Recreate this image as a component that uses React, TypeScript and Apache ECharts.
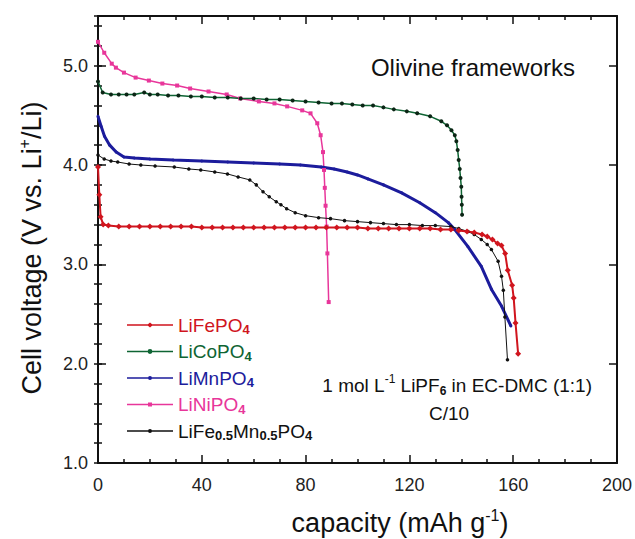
import React, { useEffect, useRef } from 'react';
import * as echarts from 'echarts';

const FONT = '"Liberation Sans", Arial, Helvetica, sans-serif';

const seriesNames = ['LiFePO4', 'LiCoPO4', 'LiMnPO4', 'LiNiPO4', 'LiFe0.5Mn0.5PO4'];
const seriesColors = ['#d0151e', '#0e6433', '#1c1c9c', '#e8369a', '#111111'];
const xTicks = [0, 40, 80, 120, 160, 200];
const yTicks = [1.0, 2.0, 3.0, 4.0, 5.0];

// LiFePO4 (red)
const feCap = [0, 0.5, 1, 2, 4, 8, 12, 16, 20, 24, 28, 32, 36, 40, 44, 48, 52, 56, 60, 64, 68, 72, 76, 80, 84, 88, 92, 96, 100, 104, 108, 112, 116, 120, 124, 128, 132, 136, 139, 142.2, 145, 148, 150, 152, 154, 155.5, 156.9, 157.9, 159.6, 160.2, 160.9, 161.9];
const feV = [3.98, 3.70, 3.48, 3.40, 3.39, 3.38, 3.38, 3.38, 3.38, 3.38, 3.38, 3.38, 3.38, 3.37, 3.37, 3.37, 3.37, 3.37, 3.37, 3.37, 3.37, 3.37, 3.37, 3.37, 3.37, 3.37, 3.37, 3.37, 3.37, 3.36, 3.36, 3.36, 3.36, 3.36, 3.36, 3.36, 3.35, 3.35, 3.34, 3.33, 3.32, 3.30, 3.28, 3.25, 3.21, 3.19, 3.11, 2.94, 2.79, 2.66, 2.41, 2.10];

// LiCoPO4 (green)
const coCap = [0, 1.8, 5, 8, 11, 14, 17.8, 20, 23, 27, 31, 35.8, 40, 45, 50, 55, 60, 65, 70, 75, 80, 85, 90, 94, 98, 102, 106, 110, 114, 119, 123, 128, 132.3, 134.5, 136.2, 137.5, 138.1, 138.6, 139, 139.4, 139.7, 140, 140.1, 140.2, 140.3];
const coV = [4.84, 4.73, 4.71, 4.71, 4.71, 4.71, 4.73, 4.71, 4.71, 4.70, 4.70, 4.69, 4.69, 4.68, 4.68, 4.67, 4.67, 4.66, 4.66, 4.65, 4.64, 4.63, 4.62, 4.62, 4.61, 4.60, 4.60, 4.58, 4.56, 4.54, 4.52, 4.49, 4.44, 4.40, 4.35, 4.30, 4.24, 4.15, 4.05, 3.96, 3.87, 3.78, 3.68, 3.60, 3.50];

// LiMnPO4 (blue)
const mnCap = [0, 1.2, 2.5, 4.5, 7, 10, 14, 20, 29, 40, 50, 60, 70, 78, 86, 91, 96, 100, 104, 110, 117, 124, 130, 135, 137.5, 142.5, 147.7, 151.6, 155.5, 159.1];
const mnV = [4.49, 4.39, 4.29, 4.20, 4.13, 4.08, 4.07, 4.06, 4.05, 4.04, 4.03, 4.02, 4.01, 4.00, 3.98, 3.96, 3.93, 3.90, 3.86, 3.80, 3.72, 3.62, 3.52, 3.42, 3.35, 3.18, 2.98, 2.75, 2.58, 2.38];

// LiNiPO4 (magenta)
const niCap = [0, 2.4, 5.3, 6.9, 10, 14.5, 19.6, 24.8, 30.5, 35.5, 42.6, 49.6, 54.8, 62, 68, 72.9, 78.7, 81.9, 84.5, 85.8, 86.7, 87.1, 87.4, 87.7, 88.1, 88.4, 88.9];
const niV = [5.24, 5.13, 5.02, 4.98, 4.93, 4.88, 4.85, 4.82, 4.80, 4.77, 4.74, 4.71, 4.67, 4.64, 4.62, 4.59, 4.55, 4.52, 4.42, 4.30, 4.13, 3.95, 3.77, 3.59, 3.38, 3.11, 2.62];

// LiFe0.5Mn0.5PO4 (black)
const femnCap = [0, 2.4, 5, 7.6, 12, 16.5, 22, 29.4, 35, 39.6, 45, 49.9, 54, 58.5, 61, 63.6, 66, 68.7, 70.5, 72.7, 76, 80, 85, 89.6, 95, 100, 105, 110, 115, 120, 125, 130, 136, 139, 142.6, 145, 147.7, 150, 151.6, 154.2, 155.5, 156.2, 156.8, 157.8];
const femnV = [4.10, 4.06, 4.04, 4.03, 4.01, 4.00, 3.99, 3.98, 3.96, 3.95, 3.93, 3.91, 3.88, 3.85, 3.80, 3.73, 3.68, 3.63, 3.60, 3.56, 3.52, 3.49, 3.47, 3.46, 3.44, 3.43, 3.42, 3.41, 3.40, 3.40, 3.39, 3.39, 3.38, 3.36, 3.33, 3.30, 3.25, 3.20, 3.15, 3.03, 2.88, 2.74, 2.47, 2.04];

const zip = (c: number[], v: number[]) => c.map((x, i) => [x, v[i]]);

const LINE = 'M0,1.75L46,1.75L46,3.25L0,3.25Z';
const icons = [
  'path://' + LINE + 'M23,0L26,2.5L23,5L20,2.5Z',
  'path://' + LINE + 'M20.6,2.5A2.4,2.4,0,1,1,25.4,2.5A2.4,2.4,0,1,1,20.6,2.5Z',
  'path://' + LINE + 'M21,2.5A2,2,0,1,1,25,2.5A2,2,0,1,1,21,2.5Z',
  'path://' + LINE + 'M21,0.5L25,0.5L25,4.5L21,4.5Z',
  'path://' + LINE + 'M21,2.5A2,2,0,1,1,25,2.5A2,2,0,1,1,21,2.5Z',
];

const legendLabels: Record<string, string> = {
  'LiFePO4': 'LiFePO{s0|4}',
  'LiCoPO4': 'LiCoPO{s1|4}',
  'LiMnPO4': 'LiMnPO{s2|4}',
  'LiNiPO4': 'LiNiPO{s3|4}',
  'LiFe0.5Mn0.5PO4': 'LiFe{s4|0.5}Mn{s4|0.5}PO{s4|4}',
};

export default function App() {
  const ref = useRef<HTMLDivElement>(null);
  useEffect(() => {
    document.body.style.margin = '0';
    const chart = echarts.init(ref.current!, undefined, { renderer: 'svg' });
    const subStyle = (c: string) => ({ color: c, fontSize: 13, fontWeight: 'bold', lineHeight: 12, verticalAlign: 'bottom', fontFamily: FONT });
    const datas = [zip(feCap, feV), zip(coCap, coV), zip(mnCap, mnV), zip(niCap, niV), zip(femnCap, femnV)];
    const symbols = ['diamond', 'circle', 'circle', 'rect', 'circle'];
    const symSizes = [6, 4, 3, 4, 3.5];
    const lineWidths = [2, 1.5, 3, 1.5, 1];
    const markerColors = ['#d0151e', '#0b2515', '#1c1c9c', '#e8369a', '#111111'];
    const order = [3, 1, 2, 4, 0];
    const series = order.map((i) => ({
      name: seriesNames[i],
      type: 'line',
      data: datas[i],
      xAxisIndex: 0,
      yAxisIndex: 0,
      showSymbol: true,
      symbol: symbols[i],
      symbolSize: symSizes[i],
      lineStyle: { color: seriesColors[i], width: lineWidths[i] },
      itemStyle: { color: markerColors[i], borderWidth: 0 },
      emphasis: { disabled: true },
      z: 3,
    }));
    const axisLine = { show: true, onZero: false, lineStyle: { color: '#111', width: 2 } };
    const majorTick = { show: true, inside: true, length: 8, lineStyle: { color: '#111', width: 1.5 } };
    const minorTickY = { show: true, inside: true, length: 4, lineStyle: { color: '#111', width: 1.5 } };
    const yBase = { type: 'value', min: 1, max: 5.5, splitLine: { show: false } };
    chart.setOption({
      animation: false,
      backgroundColor: '#ffffff',
      grid: { left: 98, right: 18, top: 16, bottom: 76, containLabel: false },
      xAxis: [
        {
          type: 'value', position: 'bottom', min: 0, max: 200, interval: 40,
          axisLine, axisTick: majorTick,
          minorTick: { show: true, splitNumber: 4, length: 4, lineStyle: { color: '#111', width: 1.5 } },
          splitLine: { show: false }, minorSplitLine: { show: false },
          axisLabel: { fontSize: 18, color: '#222', fontFamily: FONT, margin: 13, formatter: (v: number) => (xTicks.includes(v) ? String(v) : '') },
        },
        {
          type: 'value', position: 'top', min: 0, max: 200, interval: 40,
          axisLine, axisTick: majorTick,
          minorTick: { show: true, splitNumber: 4, length: 4, lineStyle: { color: '#111', width: 1.5 } },
          splitLine: { show: false }, axisLabel: { show: false },
        },
      ],
      yAxis: [
        {
          ...yBase, position: 'left', interval: 1, axisLine, axisTick: majorTick,
          axisLabel: {
            fontSize: 18, color: '#222', fontFamily: FONT, margin: 10,
            formatter: (v: number) => (yTicks.some((t) => Math.abs(t - v) < 1e-6) ? v.toFixed(1) : ''),
          },
        },
        { ...yBase, position: 'left', interval: 0.2, axisLine: { show: false }, axisTick: minorTickY, axisLabel: { show: false } },
        { ...yBase, position: 'right', interval: 1, axisLine, axisTick: majorTick, axisLabel: { show: false } },
        { ...yBase, position: 'right', interval: 0.2, axisLine: { show: false }, axisTick: minorTickY, axisLabel: { show: false } },
      ],
      legend: {
        orient: 'vertical',
        left: 122,
        top: 309,
        itemWidth: 46,
        itemHeight: 5,
        itemGap: 4.5,
        selectedMode: false,
        symbolKeepAspect: true,
        itemStyle: { borderWidth: 0 },
        data: seriesNames.map((n, i) => ({
          name: n,
          icon: icons[i],
          itemStyle: { color: seriesColors[i], borderWidth: 0 },
          textStyle: { color: seriesColors[i] },
        })),
        formatter: (name: string) => legendLabels[name] || name,
        textStyle: {
          fontSize: 19, fontFamily: FONT, lineHeight: 22,
          rich: {
            s0: subStyle(seriesColors[0]), s1: subStyle(seriesColors[1]), s2: subStyle(seriesColors[2]),
            s3: subStyle(seriesColors[3]), s4: subStyle(seriesColors[4]),
          },
        },
      },
      graphic: [
        {
          type: 'text', x: 575, y: 67, z: 10,
          style: { text: 'Olivine frameworks', fontSize: 24, fontFamily: FONT, fill: '#111', align: 'right', verticalAlign: 'middle' },
        },
        {
          type: 'text', x: 592, y: 385, z: 10,
          style: {
            text: '1 mol L{sup|-1} LiPF{sub|6} in EC-DMC (1:1)', fontSize: 19, fontFamily: FONT, fill: '#111', align: 'right', verticalAlign: 'middle', lineHeight: 24,
            rich: {
              sup: { fontSize: 12, fontFamily: FONT, fill: '#111', lineHeight: 12, verticalAlign: 'top' },
              sub: { fontSize: 12, fontFamily: FONT, fontWeight: 'bold', fill: '#111', lineHeight: 12, verticalAlign: 'bottom' },
            },
          },
        },
        {
          type: 'text', x: 449, y: 413, z: 10,
          style: { text: 'C/10', fontSize: 19, fontFamily: FONT, fill: '#111', align: 'center', verticalAlign: 'middle' },
        },
        {
          type: 'text', x: 32, y: 248, rotation: Math.PI / 2, z: 10,
          style: {
            text: 'Cell voltage (V vs. Li{sup|+}/Li)', fontSize: 27, fontFamily: FONT, fill: '#111', align: 'center', verticalAlign: 'middle', lineHeight: 32,
            rich: { sup: { fontSize: 16, fontFamily: FONT, fill: '#111', lineHeight: 16, verticalAlign: 'top' } },
          },
        },
        {
          type: 'text', x: 400, y: 523, z: 10,
          style: {
            text: 'capacity (mAh g{sup|-1})', fontSize: 27, fontFamily: FONT, fill: '#111', align: 'center', verticalAlign: 'middle', lineHeight: 32,
            rich: { sup: { fontSize: 16, fontFamily: FONT, fill: '#111', lineHeight: 16, verticalAlign: 'top' } },
          },
        },
      ],
      series,
    });
    return () => chart.dispose();
  }, []);
  return <div ref={ref} style={{ position: 'fixed', left: 0, top: 0, width: 635, height: 539, background: '#fff' }} />;
}
